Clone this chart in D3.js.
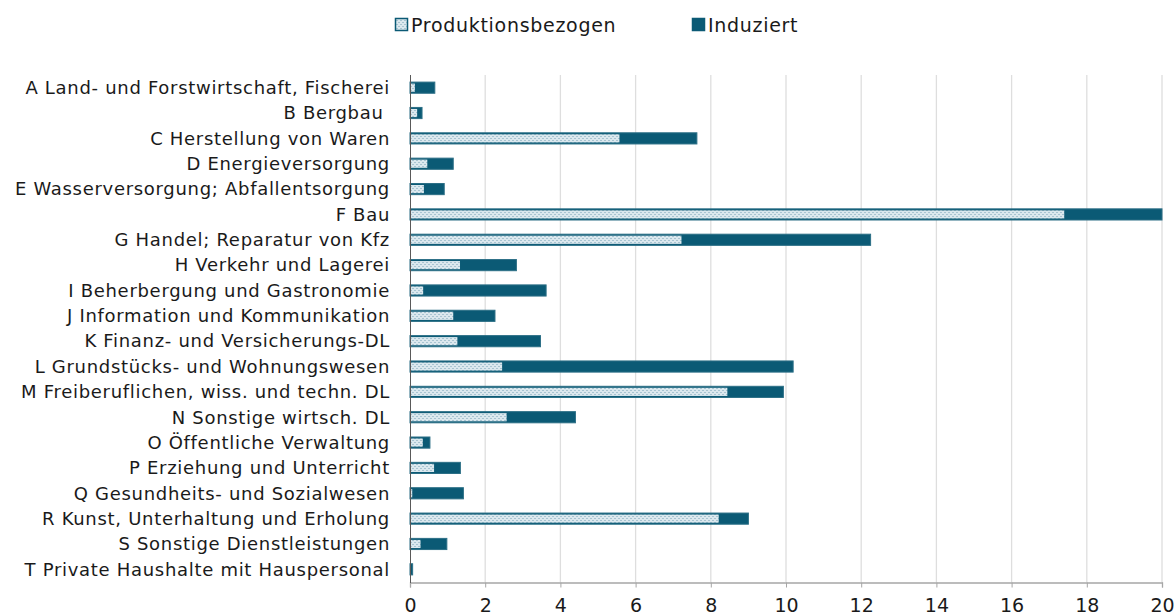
<!DOCTYPE html>
<html>
<head>
<meta charset="utf-8">
<script src="https://cdn.jsdelivr.net/npm/d3@7"></script>
<style>
  body { margin: 0; background: #fff; }
  svg text { font-family: "DejaVu Sans", sans-serif; fill: #1a1a1a; }
</style>
</head>
<body>
<svg id="chart" width="1174" height="616"></svg>
<script>
const categories = [
  "A Land- und Forstwirtschaft, Fischerei",
  "B Bergbau ",
  "C Herstellung von Waren",
  "D Energieversorgung",
  "E Wasserversorgung; Abfallentsorgung",
  "F Bau",
  "G Handel; Reparatur von Kfz",
  "H Verkehr und Lagerei",
  "I Beherbergung und Gastronomie",
  "J Information und Kommunikation",
  "K Finanz- und Versicherungs-DL",
  "L Grundstücks- und Wohnungswesen",
  "M Freiberuflichen, wiss. und techn. DL",
  "N Sonstige wirtsch. DL",
  "O Öffentliche Verwaltung",
  "P Erziehung und Unterricht",
  "Q Gesundheits- und Sozialwesen",
  "R Kunst, Unterhaltung und Erholung",
  "S Sonstige Dienstleistungen",
  "T Private Haushalte mit Hauspersonal"
]
const produktionsbezogen = [0.13, 0.19, 5.57, 0.46, 0.37, 17.4, 7.22, 1.33, 0.35, 1.15, 1.26, 2.45, 8.44, 2.57, 0.34, 0.64, 0.06, 8.21, 0.28, 0.01]
const induziert = [0.53, 0.13, 2.06, 0.69, 0.54, 2.6, 5.03, 1.5, 3.27, 1.11, 2.21, 7.74, 1.49, 1.83, 0.19, 0.7, 1.36, 0.79, 0.7, 0.06]
const xTicks = [0, 2, 4, 6, 8, 10, 12, 14, 16, 18, 20]
const seriesNames = ["Produktionsbezogen", "Induziert"]

const dark = "#0b5a75"

const svg = d3.select("#chart")

// dotted fill for the first series
const defs = svg.append("defs")
const pat = defs.append("pattern")
  .attr("id", "dots")
  .attr("patternUnits", "userSpaceOnUse")
  .attr("width", 4)
  .attr("height", 4)
pat.append("rect").attr("width", 4).attr("height", 4).attr("fill", "#dbe8ee")
pat.append("rect").attr("x", 0).attr("y", 0).attr("width", 2).attr("height", 1).attr("fill", "#a8c4d1")
pat.append("rect").attr("x", 2).attr("y", 2).attr("width", 2).attr("height", 1).attr("fill", "#a8c4d1")

let x = d3.scaleLinear().domain([0, 20]).range([410, 1162])
let y = d3.scaleBand().domain(categories).range([75, 582]).paddingInner(0.56).paddingOuter(0.28)

// gridlines
svg.append("g")
  .selectAll("line")
  .data(xTicks.slice(1))
  .enter()
  .append("line")
  .attr("x1", d => x(d)).attr("x2", d => x(d))
  .attr("y1", 75).attr("y2", 582)
  .attr("stroke", "#dedede")
  .attr("stroke-width", 1.3)

// bottom axis
let xAxis = svg.append("g")
  .attr("transform", "translate(0,582.5)")
  .call(d3.axisBottom(x).tickValues(xTicks).tickSize(5).tickPadding(11))
xAxis.select(".domain").attr("stroke", "#a6a6a6").attr("stroke-width", 1.3)
xAxis.selectAll(".tick line").attr("stroke", "#a6a6a6")
xAxis.selectAll("text").style("font-size", "19px").attr("fill", "#1a1a1a")

// bars
let rows = categories.map((c, i) => ({ cat: c, p: produktionsbezogen[i], ind: induziert[i] }))
let barG = svg.append("g")
barG.selectAll(".ind")
  .data(rows)
  .enter()
  .append("rect")
  .attr("class", "ind")
  .attr("x", d => x(0))
  .attr("y", d => y(d.cat))
  .attr("width", d => x(d.p + d.ind) - x(0))
  .attr("height", y.bandwidth())
  .attr("fill", dark)
  .attr("stroke", "#2c6f86")
  .attr("stroke-width", 1)

barG.selectAll(".prod")
  .data(rows)
  .enter()
  .append("rect")
  .attr("class", "prod")
  .attr("x", d => x(0) + 1)
  .attr("y", d => y(d.cat) + 1.5)
  .attr("width", d => Math.max(0, x(d.p) - x(0) - 1))
  .attr("height", y.bandwidth() - 3)
  .attr("fill", "url(#dots)")

// y axis line
svg.append("line")
  .attr("x1", 410.5).attr("x2", 410.5)
  .attr("y1", 75).attr("y2", 583)
  .attr("stroke", "#595959")
  .attr("stroke-width", 1)

// category labels (keep the trailing blank after "Bergbau")
svg.append("g")
  .selectAll("text")
  .data(categories)
  .enter()
  .append("text")
  .attr("x", 390)
  .attr("y", d => y(d) + y.bandwidth() / 2)
  .attr("dy", "0.35em")
  .attr("text-anchor", "end")
  .style("font-size", "18px")
  .style("letter-spacing", "0.7px")
  .style("white-space", "pre")
  .text(d => d)

// legend
let legend = svg.append("g")
let legendX = [395, 692]
seriesNames.forEach((name, i) => {
  legend.append("rect")
    .attr("x", legendX[i] + 0.5).attr("y", 18.5)
    .attr("width", 12).attr("height", 12)
    .attr("fill", i === 0 ? "url(#dots)" : dark)
    .attr("stroke", dark)
    .attr("stroke-width", 1.5)
  legend.append("text")
    .attr("x", legendX[i] + 16)
    .attr("y", 25)
    .attr("dy", "0.35em")
    .style("font-size", "19px")
    .style("letter-spacing", "0.7px")
    .text(name)
})
</script>
</body>
</html>
